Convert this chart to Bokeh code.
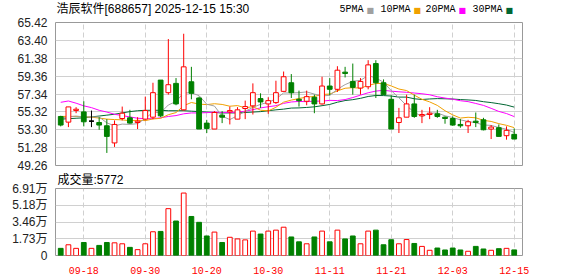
from bokeh.plotting import figure
from bokeh.models import FixedTicker, PrintfTickFormatter, Grid, Range1d, ColumnDataSource
from bokeh.core.properties import value
from bokeh.layouts import column
from bokeh.embed import file_html
from bokeh.resources import INLINE

# ---------------- data ----------------
dates = ["09-15", "09-16", "09-17", "09-18", "09-19", "09-22", "09-23", "09-24", "09-25", "09-26",
         "09-29", "09-30", "10-09", "10-10", "10-13", "10-14", "10-15", "10-16", "10-17", "10-20",
         "10-21", "10-22", "10-23", "10-24", "10-27", "10-28", "10-29", "10-30", "10-31", "11-03",
         "11-04", "11-05", "11-06", "11-07", "11-10", "11-11", "11-12", "11-13", "11-14", "11-17",
         "11-18", "11-19", "11-20", "11-21", "11-24", "11-25", "11-26", "11-27", "11-28", "12-01",
         "12-02", "12-03", "12-04", "12-05", "12-08", "12-09", "12-10", "12-11", "12-12", "12-15"]

opens = [54.80, 54.16, 55.48, 55.32, 54.27, 54.12, 53.75, 51.81, 54.57, 54.65,
         54.12, 54.50, 54.72, 58.91, 57.49, 58.54, 55.55, 58.72, 56.89, 54.05,
         53.38, 54.95, 55.32, 54.50, 55.70, 56.00, 56.82, 56.22, 56.37, 57.64,
         58.61, 56.74, 56.52, 56.97, 56.22, 58.24, 57.87, 59.81, 58.76, 58.01,
         58.16, 60.78, 58.61, 56.74, 54.12, 54.72, 56.22, 54.87, 55.02, 55.10,
         54.72, 54.57, 53.90, 53.75, 54.27, 54.42, 53.38, 53.53, 52.63, 52.78]
highs = [54.88, 55.88, 55.85, 56.52, 55.47, 54.72, 54.50, 54.35, 55.92, 55.55,
         54.72, 57.04, 58.61, 58.91, 63.55, 59.14, 64.15, 60.41, 57.04, 54.42,
         55.40, 55.40, 55.92, 55.85, 56.59, 58.54, 57.42, 56.97, 58.84, 59.88,
         59.59, 57.72, 57.72, 57.27, 59.29, 59.14, 60.48, 60.41, 60.78, 59.14,
         61.16, 61.16, 58.99, 57.19, 55.77, 57.27, 57.27, 55.55, 55.85, 55.55,
         54.80, 54.80, 54.50, 54.42, 55.25, 54.65, 53.83, 53.90, 53.68, 53.45]
lows = [53.68, 53.60, 55.17, 53.68, 53.60, 53.30, 50.68, 51.36, 54.35, 53.98,
        53.38, 54.35, 54.50, 54.72, 57.27, 56.07, 55.47, 56.74, 53.38, 52.93,
        53.38, 54.05, 53.90, 54.50, 54.50, 55.02, 55.77, 55.10, 56.22, 57.64,
        56.89, 55.92, 56.07, 55.17, 56.14, 57.19, 57.57, 59.21, 57.27, 57.27,
        57.87, 56.89, 57.27, 53.38, 52.93, 54.72, 54.65, 54.05, 54.50, 54.65,
        53.98, 53.75, 53.53, 52.93, 53.60, 53.23, 52.25, 52.55, 52.18, 52.25]
closes = [53.83, 55.88, 55.62, 54.20, 54.27, 53.83, 52.55, 53.90, 55.17, 54.05,
          54.27, 55.47, 57.49, 54.87, 58.39, 56.22, 60.41, 57.42, 53.38, 53.45,
          55.25, 54.72, 55.47, 55.55, 55.92, 57.49, 56.44, 56.59, 57.49, 59.29,
          57.49, 56.59, 57.04, 56.22, 58.24, 57.87, 60.03, 59.66, 58.09, 58.76,
          60.63, 58.61, 57.27, 53.38, 54.65, 56.22, 54.80, 55.02, 55.17, 54.80,
          54.57, 53.83, 53.75, 54.20, 54.12, 53.30, 53.60, 52.55, 53.23, 52.25]
volumes = [7380, 11070, 7380, 13420, 7380, 10400, 13420, 13080, 12080, 8390,
           6040, 12080, 24490, 24820, 48300, 35560, 64400, 40250, 34210, 20130,
           24150, 13420, 18780, 17110, 16100, 25160, 22140, 25160, 26160, 29180,
           19120, 14090, 12080, 19120, 25160, 14090, 26160, 17110, 20130, 12080,
           25160, 26160, 11070, 16270, 12080, 16440, 12410, 9390, 5370, 7710,
           5700, 7710, 5700, 4360, 9390, 6710, 5370, 7040, 7380, 5772]

ma5 = [54.60, 54.75, 54.85, 54.75, 54.75, 54.75, 54.08, 53.75, 53.94, 53.90,
       53.99, 54.57, 55.29, 55.23, 56.10, 56.49, 57.48, 57.46, 57.16, 56.18,
       55.98, 54.84, 54.45, 54.89, 55.38, 55.83, 56.17, 56.40, 56.79, 57.46,
       57.46, 57.49, 57.58, 57.33, 57.12, 57.19, 57.88, 58.40, 58.78, 58.88,
       59.43, 59.15, 58.67, 57.73, 56.91, 56.03, 55.26, 54.81, 55.17, 55.20,
       54.87, 54.68, 54.42, 54.23, 54.09, 53.84, 53.79, 53.55, 53.36, 52.99]
ma10 = [54.80, 54.82, 54.80, 54.78, 54.72, 54.62, 54.50, 54.45, 54.42, 54.32,
        54.37, 54.33, 54.52, 54.59, 55.00, 55.24, 56.02, 56.38, 56.20, 56.14,
        56.24, 56.16, 55.96, 56.03, 55.78, 55.91, 55.51, 55.43, 55.84, 56.42,
        56.65, 56.83, 56.99, 57.06, 57.29, 57.33, 57.69, 57.99, 58.05, 58.00,
        58.31, 58.52, 58.54, 58.25, 57.90, 57.73, 57.21, 56.74, 56.45, 56.05,
        55.45, 54.98, 54.62, 54.71, 54.65, 54.36, 54.24, 53.99, 53.80, 53.54]
ma20 = [56.40, 56.55, 56.30, 56.00, 55.80, 55.50, 55.30, 55.05, 54.90, 54.75,
        54.60, 54.55, 54.55, 54.65, 54.80, 54.90, 55.10, 55.20, 55.20, 55.23,
        55.30, 55.24, 55.24, 55.31, 55.39, 55.57, 55.77, 55.90, 56.02, 56.28,
        56.44, 56.50, 56.47, 56.54, 56.53, 56.62, 56.60, 56.71, 56.94, 57.21,
        57.48, 57.67, 57.76, 57.66, 57.59, 57.53, 57.45, 57.37, 57.25, 57.03,
        56.88, 56.75, 56.58, 56.48, 56.27, 56.05, 55.72, 55.37, 55.13, 54.79]
ma30 = [54.50, 54.55, 54.60, 54.65, 54.75, 54.85, 54.95, 55.05, 55.20, 55.35,
        55.45, 55.50, 55.50, 55.50, 55.45, 55.45, 55.45, 55.40, 55.35, 55.30,
        55.25, 55.20, 55.20, 55.20, 55.25, 55.30, 55.35, 55.45, 55.55, 55.63,
        55.75, 55.77, 55.82, 55.89, 56.02, 56.16, 56.41, 56.60, 56.70, 56.85,
        57.06, 57.17, 57.16, 57.11, 56.99, 56.99, 56.80, 56.72, 56.78, 56.82,
        56.80, 56.77, 56.71, 56.67, 56.61, 56.47, 56.37, 56.24, 56.09, 55.86]

price_ticks = [49.26, 51.28, 53.30, 55.32, 57.34, 59.36, 61.38, 63.40, 65.42]
vol_ticks = [0, 17275, 34550, 51825, 69100]
vol_tick_labels = ["0", "1.73万", "3.46万", "5.18万", "6.91万"]
label_dates = ["09-18", "09-30", "10-20", "10-30", "11-11", "11-21", "12-03", "12-15"]

stock_title = "浩辰软件[688657] 2025-12-15 15:30"
vol_title = "成交量:5772"
ma_names = ["5PMA", "10PMA", "20PMA", "30PMA"]

# ---------------- styling ----------------
RED = "#ff0000"
GREEN = "#008000"
BLACK = "#000000"
MA_COLORS = ["#a0a0a0", "#f0a000", "#ff00ff", "#006633"]
GRID = "#d0d0d0"
BORDER = "#999999"
AXIS_FONT = "Liberation Sans, Noto Sans CJK SC"
MONO_FONT = "Liberation Mono"
W = 578
LEFT, RIGHT = 55, 56

n = len(dates)
idx = list(range(n))
date_ticks = [dates.index(d) for d in label_dates]

cand_col, body_fill, vol_col, vol_fill = [], [], [], []
for o, c in zip(opens, closes):
    if c > o:
        cand_col.append(RED); body_fill.append("white")
    elif c < o:
        cand_col.append(GREEN); body_fill.append(GREEN)
    else:
        cand_col.append(BLACK); body_fill.append(BLACK)
    if c < o:
        vol_col.append(GREEN); vol_fill.append(GREEN)
    else:
        vol_col.append(RED); vol_fill.append("white")

body_top = [max(o, c) for o, c in zip(opens, closes)]
body_bot = [min(o, c) for o, c in zip(opens, closes)]

src = ColumnDataSource(dict(x=idx, o=opens, h=highs, l=lows, c=closes, top=body_top, bot=body_bot,
                            col=cand_col, fill=body_fill, vol=volumes, vcol=vol_col, vfill=vol_fill,
                            ma5=ma5, ma10=ma10, ma20=ma20, ma30=ma30))
BW = 0.62
flat_x = [i for i in idx if abs(opens[i] - closes[i]) < 0.02]
flat_src = ColumnDataSource(dict(x0=[i - BW / 2 for i in flat_x], x1=[i + BW / 2 for i in flat_x],
                                 y=[closes[i] for i in flat_x], col=[cand_col[i] for i in flat_x]))

x_range = Range1d(-0.68, 60.08)

# ---------------- header strip (title + MA legend), x in page pixels ----------------
h = figure(width=W, height=16, x_range=Range1d(LEFT, W - RIGHT), y_range=Range1d(16, 0),
           output_backend="svg", toolbar_location=None, x_axis_type=None, y_axis_type=None,
           min_border_left=LEFT, min_border_right=RIGHT, min_border_top=0, min_border_bottom=0)
h.outline_line_color = None
h.xgrid.visible = False
h.ygrid.visible = False
h.text(x=[56], y=[8.5], text=[stock_title], text_font=value(AXIS_FONT), text_font_size="12px",
       text_baseline="middle", text_color="black")
leg_x = [339, 380, 425, 472]
h.text(x=leg_x, y=[9] * 4, text=ma_names, text_font=value(MONO_FONT), text_font_size="10px",
       text_baseline="middle", text_color="black")
h.text(x=[lx + len(nm) * 6 + 3 for lx, nm in zip(leg_x, ma_names)], y=[9.5] * 4, text=["■"] * 4,
       text_font=value("DejaVu Sans"), text_font_size="8px", text_baseline="middle", text_color=MA_COLORS)

# ---------------- price panel ----------------
p = figure(width=W, height=156, x_range=x_range, y_range=Range1d(49.26, 65.42),
           output_backend="svg", toolbar_location=None, x_axis_type=None,
           min_border_left=LEFT, min_border_right=RIGHT, min_border_top=6, min_border_bottom=7)
p.outline_line_color = BORDER
p.ygrid.ticker = FixedTicker(ticks=price_ticks)
p.ygrid.grid_line_color = GRID
p.add_layout(Grid(dimension=0, ticker=FixedTicker(ticks=date_ticks),
                  grid_line_color=GRID, grid_line_dash="5 3"))
ya = p.yaxis[0]
ya.ticker = FixedTicker(ticks=price_ticks)
ya.formatter = PrintfTickFormatter(format="%.2f")
ya.axis_line_color = None
ya.major_tick_line_color = None
ya.minor_tick_line_color = None
ya.major_label_standoff = 2
ya.major_label_text_font = AXIS_FONT
ya.major_label_text_font_size = "12px"
ya.major_label_text_color = "#222222"

for key, colr in zip(["ma30", "ma20", "ma10", "ma5"], MA_COLORS[::-1]):
    p.line("x", key, source=src, line_color=colr, line_width=1)

p.segment(x0="x", y0="l", x1="x", y1="h", source=src, line_color="col", line_width=1)
p.vbar(x="x", width=BW, top="top", bottom="bot", source=src, fill_color="fill", line_color="col", line_width=1)
p.segment(x0="x0", y0="y", x1="x1", y1="y", source=flat_src, line_color="col", line_width=1)

# ---------------- volume panel ----------------
q = figure(width=W, height=104, x_range=x_range, y_range=Range1d(0, 69100),
           output_backend="svg", toolbar_location=None,
           min_border_left=LEFT, min_border_right=RIGHT, min_border_top=15, min_border_bottom=21)
q.title.text = vol_title
q.title.align = "left"
q.title.vertical_align = "top"
q.title.offset = 2
q.title.standoff = 0
q.title.text_font = AXIS_FONT
q.title.text_font_size = "12px"
q.title.text_font_style = "normal"
q.title.text_color = "black"
q.outline_line_color = BORDER
q.ygrid.ticker = FixedTicker(ticks=vol_ticks)
q.ygrid.grid_line_color = GRID
q.xgrid.ticker = FixedTicker(ticks=date_ticks)
q.xgrid.grid_line_color = GRID
q.xgrid.grid_line_dash = "5 3"
qy = q.yaxis[0]
qy.ticker = FixedTicker(ticks=vol_ticks)
qy.major_label_overrides = {t: s for t, s in zip(vol_ticks, vol_tick_labels)}
qy.axis_line_color = None
qy.major_tick_line_color = None
qy.minor_tick_line_color = None
qy.major_label_standoff = 2
qy.major_label_text_font = AXIS_FONT
qy.major_label_text_font_size = "12px"
qy.major_label_text_color = "#222222"
qx = q.xaxis[0]
qx.ticker = FixedTicker(ticks=date_ticks)
qx.major_label_overrides = {t: d for t, d in zip(date_ticks, label_dates)}
qx.axis_line_color = None
qx.major_tick_line_color = None
qx.minor_tick_line_color = None
qx.major_label_standoff = 5
qx.major_label_text_font = MONO_FONT
qx.major_label_text_font_size = "10px"
qx.major_label_text_color = RED

q.vbar(x="x", width=BW, top="vol", bottom=0, source=src, fill_color="vfill", line_color="vcol", line_width=1)

layout = column(h, p, q, spacing=0)
open("out.html", "w").write(file_html(layout, INLINE))
